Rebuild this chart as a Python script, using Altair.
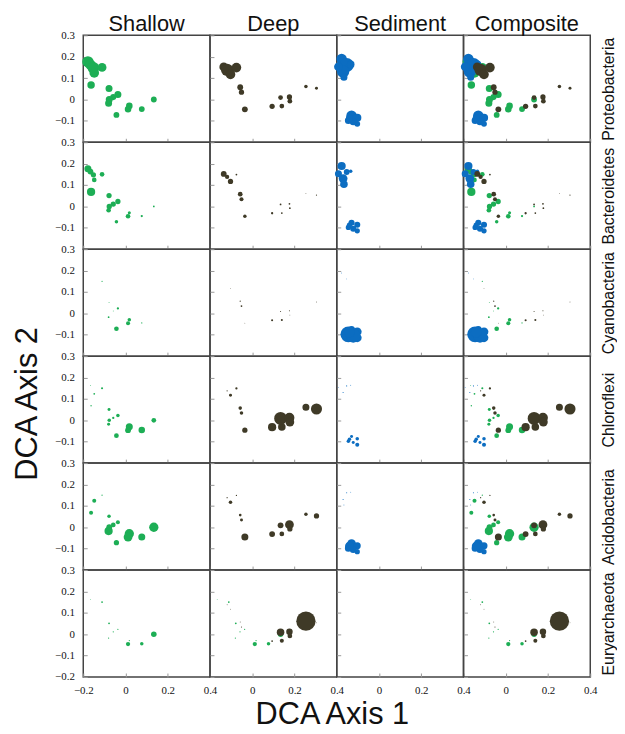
import altair as alt
import pandas as pd

taxa = ["Proteobacteria", "Bacteroidetes", "Cyanobacteria", "Chloroflexi", "Acidobacteria", "Euryarchaeota"]
columns = ["Shallow", "Deep", "Sediment", "Composite"]
habitats = ["Shallow", "Deep", "Sediment"]
habitat_colors = ["#1DAE55", "#3F3A27", "#0C6DC1"]

# DCA sample scores (axis 1, axis 2)
shallow_x = [-0.178, -0.166, -0.152, -0.148, -0.111, -0.163, -0.078, -0.036, -0.058, -0.077, -0.080, -0.043, 0.018, 0.012, 0.077, 0.134]
shallow_y = [0.176, 0.163, 0.148, 0.124, 0.150, 0.068, 0.051, 0.023, 0.011, 0.000, -0.018, -0.072, -0.030, -0.046, -0.045, 0.000]
deep_x = [-0.135, -0.119, -0.103, -0.075, -0.057, -0.051, -0.035, 0.094, 0.140, 0.134, 0.176, 0.178, 0.254, 0.304]
deep_y = [0.152, 0.138, 0.117, 0.149, 0.057, 0.034, -0.046, -0.032, -0.031, 0.009, 0.012, -0.008, 0.061, 0.053]
sediment_x = [-0.177, -0.153, -0.170, -0.134, -0.192, -0.166, -0.130, -0.103, -0.145, -0.103, -0.122, -0.140]
sediment_y = [0.189, 0.161, 0.130, 0.164, 0.153, 0.104, -0.076, -0.086, -0.098, -0.114, -0.104, -0.088]

# relative abundance of each phylum in each sample
shallow_proteobacteria = [42, 36, 45, 30, 25, 18, 16, 16, 12, 16, 16, 11, 14, 14, 11, 11]
shallow_bacteroidetes = [16, 11, 9, 7, 7, 22, 9, 9, 9, 9, 7, 4, 3, 7, 1.7, 1]
shallow_cyanobacteria = [0, 0, 0, 0, 0.5, 0, 0.25, 1.7, 0.25, 0, 1, 7, 4, 5.3, 0.5, 0]
shallow_chloroflexi = [0, 0.25, 0, 1, 1.4, 0.6, 2.9, 4, 1.7, 4, 2.9, 7.3, 16, 11, 13.7, 7.3]
shallow_acidobacteria = [0, 0, 0, 5.3, 0.5, 5.3, 4, 5.3, 7.3, 11, 22, 9, 28, 25, 16, 28]
shallow_euryarchaeota = [0, 0.25, 0, 0, 1, 0, 1, 0.5, 0.5, 0, 0.5, 0, 0.5, 6, 4, 10]

deep_proteobacteria = [25, 49, 30, 30, 11, 9, 11, 9, 7.3, 7.3, 9, 7.3, 4, 2.9]
deep_bacteroidetes = [11, 6, 9, 1, 7.3, 5.3, 4, 1.7, 1, 1, 1, 1, 0.25, 0.5]
deep_cyanobacteria = [0, 0, 0.16, 0, 0.5, 1, 0.16, 1.4, 1.4, 0.36, 0.36, 0.25, 0, 0.25]
deep_chloroflexi = [0, 0.5, 2.9, 1.7, 4, 4, 9, 22, 18.5, 53, 32, 25, 16, 40]
deep_acidobacteria = [0, 0.5, 4, 0.5, 2.3, 2.9, 16, 11, 7.3, 11, 25, 9, 4, 9]
deep_euryarchaeota = [0, 0.25, 0.25, 0, 0.25, 0.36, 0, 1, 5.3, 18.5, 13.7, 7.3, 121, 0.25]

sediment_proteobacteria = [36, 64, 49, 18.5, 25, 16, 36, 22, 16, 11, 16, 16]
sediment_bacteroidetes = [22, 11, 25, 4, 16, 18.5, 12, 12, 9, 9, 12, 9]
sediment_cyanobacteria = [0.25, 0.16, 0, 0, 0, 0, 16, 25, 81, 25, 64, 36]
sediment_chloroflexi = [0, 0.36, 0.36, 0.25, 0.25, 0, 2.9, 4, 4, 5.3, 2.9, 4]
sediment_acidobacteria = [0, 0.36, 0.36, 0.25, 0, 0.25, 25, 16, 16, 9, 16, 25]
sediment_euryarchaeota = [0, 0, 0, 0, 0, 0, 0, 0, 0, 0, 0, 0]

x_ticks = [-0.2, 0, 0.2, 0.4]
y_ticks = [-0.2, -0.1, 0, 0.1, 0.2, 0.3]

# drawing order in the composite panels: shallow, then sediment, then deep on top
groups = [
    ("Shallow", 0, shallow_x, shallow_y,
     [shallow_proteobacteria, shallow_bacteroidetes, shallow_cyanobacteria,
      shallow_chloroflexi, shallow_acidobacteria, shallow_euryarchaeota]),
    ("Sediment", 1, sediment_x, sediment_y,
     [sediment_proteobacteria, sediment_bacteroidetes, sediment_cyanobacteria,
      sediment_chloroflexi, sediment_acidobacteria, sediment_euryarchaeota]),
    ("Deep", 2, deep_x, deep_y,
     [deep_proteobacteria, deep_bacteroidetes, deep_cyanobacteria,
      deep_chloroflexi, deep_acidobacteria, deep_euryarchaeota]),
]

records = []
for hab, layer, xs, ys, abund_lists in groups:
    for taxon, ab in zip(taxa, abund_lists):
        for x, y, a in zip(xs, ys, ab):
            if a > 0:
                records.append({"taxon": taxon, "habitat": hab, "layer": layer,
                                "dca1": x, "dca2": y, "abundance": a})
df = pd.DataFrame(records)

panel_habitats = {
    "Shallow": ["Shallow"],
    "Deep": ["Deep"],
    "Sediment": ["Sediment"],
    "Composite": ["Sediment", "Shallow", "Deep"],
}

W, H = 128, 108
label_font = "Liberation Serif"
title_font = "Liberation Sans"
fmt = "datum.value == 0 ? '0' : format(datum.value, '.1f')"

xscale = alt.Scale(domain=[-0.2, 0.4], nice=False, zero=False)
yscale = alt.Scale(domain=[-0.2, 0.3], nice=False, zero=False)

panels = []
for ri, taxon in enumerate(taxa):
    for ci, col in enumerate(columns):
        habs = list(panel_habitats[col])
        if taxon == "Euryarchaeota" and col == "Deep":
            habs = ["Shallow", "Deep"]
        bottom = ri == len(taxa) - 1
        left = ci == 0
        xv = x_ticks if ci == 0 else x_ticks[1:]
        yv = y_ticks if bottom else y_ticks[1:]
        xaxis = alt.Axis(values=xv, labels=bottom, tickSize=4, offset=-4, domain=False,
                         grid=False, labelFlush=False, labelPadding=8, title=None,
                         tickColor="#999", labelFont=label_font, labelFontSize=11,
                         labelColor="#111", labelExpr=fmt)
        yaxis = alt.Axis(values=yv, labels=left, tickSize=4, offset=-4, domain=False,
                         grid=False, labelFlush=False, labelPadding=9, title=None,
                         tickColor="#999", labelFont=label_font, labelFontSize=11,
                         labelColor="#111", labelExpr=fmt)
        base = alt.Chart().transform_filter(
            alt.FieldEqualPredicate(field="taxon", equal=taxon)
        ).transform_filter(
            alt.FieldOneOfPredicate(field="habitat", oneOf=habs)
        )
        pts = base.mark_circle(opacity=1).encode(
            x=alt.X("dca1:Q", scale=xscale, axis=xaxis),
            y=alt.Y("dca2:Q", scale=yscale, axis=yaxis),
            color=alt.Color("habitat:N", scale=alt.Scale(domain=habitats, range=habitat_colors), legend=None),
            size=alt.Size("abundance:Q", scale=alt.Scale(domain=[0, 121], range=[0, 380], zero=True), legend=None),
            order=alt.Order("layer:Q"),
        )
        if ci == len(columns) - 1:
            lab = base.mark_circle(opacity=0).encode(
                x=alt.X("dca1:Q", scale=xscale, axis=xaxis),
                y=alt.Y("dca2:Q", scale=yscale,
                        axis=alt.Axis(orient="right", labels=False, ticks=False, domain=False,
                                      grid=False, title=taxon, titleAngle=270, titleBaseline="top",
                                      titleFont=title_font, titleFontSize=16, titleFontWeight="normal",
                                      titleColor="#111", titlePadding=10)),
            )
            ch = alt.layer(pts, lab).resolve_axis(y="independent")
        else:
            ch = pts
        props = {"width": W, "height": H}
        if ri == 0:
            props["title"] = alt.TitleParams(col, orient="top", fontSize=22, font=title_font,
                                             fontWeight="normal", color="#111",
                                             offset=(-7 if ci == 0 else -1))
        panels.append(ch.properties(**props))

grid = alt.concat(
    *panels, columns=4, spacing=0, bounds="flush",
    title=alt.TitleParams("DCA Axis 2", orient="left", fontSize=31, font=title_font,
                          fontWeight="normal", color="#111", offset=10, anchor="middle", dx=-50),
)

chart = alt.hconcat(
    grid, spacing=0, data=df,
    title=alt.TitleParams("DCA Axis 1", orient="bottom", fontSize=31, font=title_font,
                          fontWeight="normal", color="#111", offset=4, anchor="middle", dx=18),
).properties(
    padding={"left": 4, "top": 0, "right": 0, "bottom": 0}
).configure_view(
    stroke="#444", strokeWidth=1.5
)

chart.save("out.html", embed_options={"renderer": "svg", "actions": False})
